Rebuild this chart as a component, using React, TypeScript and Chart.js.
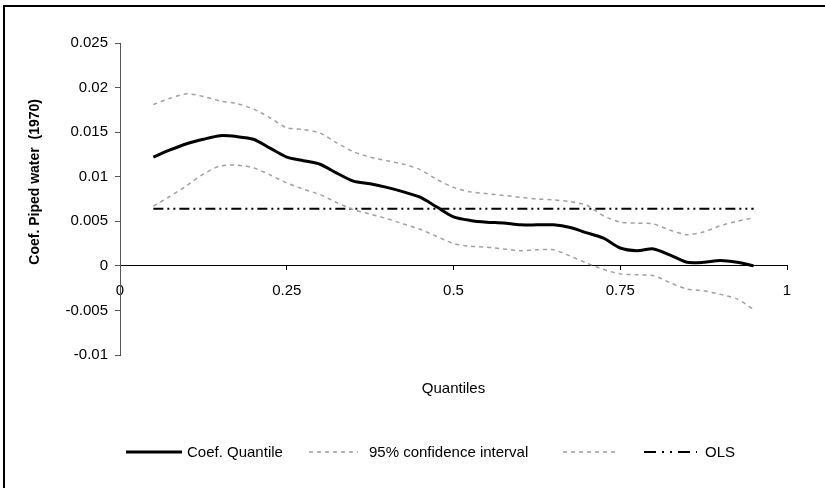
import { useEffect, useRef } from "react";
import { Chart, registerables } from "chart.js";

Chart.register(...registerables);

// ---------- data ----------
const quantiles = [
  0.05, 0.075, 0.1, 0.125, 0.15, 0.175, 0.2, 0.225, 0.25, 0.275, 0.3, 0.325,
  0.35, 0.375, 0.4, 0.425, 0.45, 0.475, 0.5, 0.525, 0.55, 0.575, 0.6, 0.625,
  0.65, 0.675, 0.7, 0.725, 0.75, 0.775, 0.8, 0.825, 0.85, 0.875, 0.9, 0.925, 0.95,
];

const coefQuantile = [
  0.0122, 0.013, 0.0137, 0.0142, 0.0146, 0.0145, 0.0142, 0.0132, 0.0122, 0.0118,
  0.0114, 0.0104, 0.0095, 0.0092, 0.0088, 0.0083, 0.0077, 0.0066, 0.0055, 0.0051,
  0.0049, 0.0048, 0.0046, 0.0046, 0.0046, 0.0043, 0.0037, 0.0031, 0.002, 0.0017,
  0.0019, 0.0012, 0.0004, 0.0004, 0.0006, 0.0004, 0.0,
];

const ciUpper = [
  0.0181, 0.0188, 0.0193, 0.019, 0.0185, 0.0182, 0.0176, 0.0166, 0.0155, 0.0153,
  0.0149, 0.0138, 0.0128, 0.0122, 0.0118, 0.0114, 0.0108, 0.0097, 0.0088, 0.0083,
  0.0081, 0.0079, 0.0077, 0.0075, 0.0074, 0.0072, 0.0068, 0.0056, 0.0049, 0.0048,
  0.0047, 0.004, 0.0035, 0.0038, 0.0045, 0.005, 0.0054,
];

const ciLower = [
  0.0067, 0.0078, 0.009, 0.0103, 0.0112, 0.0113, 0.011, 0.0102, 0.0093, 0.0086,
  0.008, 0.0071, 0.0063, 0.0058, 0.0053, 0.0047, 0.0041, 0.0033, 0.0025, 0.0022,
  0.0021, 0.0019, 0.0017, 0.0018, 0.0018, 0.0011, 0.0003, -0.0004, -0.0009, -0.001,
  -0.0011, -0.0019, -0.0026, -0.0028, -0.0032, -0.0037, -0.0049,
];

const olsCoef = 0.0064;

const seriesNames = ["Coef. Quantile", "95% confidence interval", "", "OLS"];

const xTickValues = [0, 0.25, 0.5, 0.75, 1];
const xTickLabels = ["0", "0.25", "0.5", "0.75", "1"];
const yTickValues = [-0.01, -0.005, 0, 0.005, 0.01, 0.015, 0.02, 0.025];
const yTickLabels = ["-0.01", "-0.005", "0", "0.005", "0.01", "0.015", "0.02", "0.025"];

const xTitle = "Quantiles";
const yTitle = "Coef. Piped water  (1970)";

// ---------- styling ----------
const FONT = "'Liberation Sans', Arial, sans-serif";
const FS = 15;

const labelFor = (values: number[], labels: string[]) => (v: any) => {
  const i = values.findIndex((t) => Math.abs(t - Number(v)) < 1e-9);
  return i >= 0 ? labels[i] : "";
};

const decorPlugin = {
  id: "decor",
  afterDraw(chart: any) {
    const ctx = chart.ctx as CanvasRenderingContext2D;
    const area = chart.chartArea;
    ctx.save();
    // outer frame (left and top edges visible in the reference)
    ctx.strokeStyle = "#000";
    ctx.lineWidth = 2;
    ctx.setLineDash([]);
    ctx.strokeRect(4, 6, 1000, 1000);

    // y axis title
    ctx.fillStyle = "#000";
    ctx.font = `bold 14px ${FONT}`;
    ctx.textAlign = "center";
    ctx.textBaseline = "middle";
    ctx.translate(35, area.top + (area.bottom - area.top) * 0.445);
    ctx.rotate(-Math.PI / 2);
    ctx.fillText(yTitle, 0, 0);
    ctx.restore();

    // legend
    ctx.save();
    const legendY = 452;
    const items = [
      { x0: 126, x1: 182, tx: 187 },
      { x0: 309, x1: 358, tx: 369 },
      { x0: 563, x1: 617, tx: 0 },
      { x0: 644, x1: 697, tx: 705 },
    ];
    chart.data.datasets.forEach((ds: any, i: number) => {
      const it = items[i];
      ctx.strokeStyle = ds.borderColor;
      ctx.lineWidth = ds.borderWidth;
      ctx.setLineDash(ds.legendDash || ds.borderDash || []);
      ctx.beginPath();
      ctx.moveTo(it.x0, legendY);
      ctx.lineTo(it.x1, legendY);
      ctx.stroke();
      if (seriesNames[i]) {
        ctx.setLineDash([]);
        ctx.fillStyle = "#000";
        ctx.font = `${FS}px ${FONT}`;
        ctx.textAlign = "left";
        ctx.textBaseline = "middle";
        ctx.fillText(seriesNames[i], it.tx, legendY + 1);
      }
    });
    ctx.restore();
  },
};

export default function App() {
  const canvasRef = useRef<HTMLCanvasElement | null>(null);

  useEffect(() => {
    if (!canvasRef.current) return;
    const pts = (arr: number[]) => quantiles.map((q, i) => ({ x: q, y: arr[i] }));
    const olsPts = [
      { x: quantiles[0], y: olsCoef },
      { x: quantiles[quantiles.length - 1], y: olsCoef },
    ];

    const chart = new Chart(canvasRef.current, {
      type: "line",
      data: {
        datasets: [
          {
            label: seriesNames[0],
            data: pts(coefQuantile),
            borderColor: "#000",
            borderWidth: 3,
            pointRadius: 0,
            tension: 0.25,
            fill: false,
          },
          {
            label: seriesNames[1],
            data: pts(ciUpper),
            borderColor: "#a0a0a0",
            borderWidth: 1.5,
            borderDash: [4, 4],
            pointRadius: 0,
            tension: 0.25,
            fill: false,
          },
          {
            label: seriesNames[2],
            data: pts(ciLower),
            borderColor: "#a0a0a0",
            borderWidth: 1.5,
            borderDash: [4, 4],
            pointRadius: 0,
            tension: 0.25,
            fill: false,
          },
          {
            label: seriesNames[3],
            data: olsPts,
            borderColor: "#000",
            borderWidth: 2,
            borderDash: [10, 4, 2, 4, 2, 4],
            legendDash: [12, 6, 2, 6, 2, 6],
            pointRadius: 0,
            fill: false,
          } as any,
        ],
      },
      options: {
        animation: false,
        responsive: false,
        devicePixelRatio: 1,
        layout: { padding: { left: 0, top: 43, right: 38, bottom: 90 } },
        plugins: {
          legend: { display: false },
          tooltip: { enabled: false },
        },
        scales: {
          x: {
            type: "linear",
            position: { y: 0 } as any,
            min: 0,
            max: 1,
            ticks: {
              stepSize: 0.25,
              autoSkip: false,
              maxRotation: 0,
              padding: 12,
              color: "#000",
              font: { family: FONT, size: FS },
              callback: labelFor(xTickValues, xTickLabels),
            },
            grid: { drawOnChartArea: false, drawTicks: true, tickLength: 4, color: "#000" },
            border: { display: true, color: "#000", width: 1 },
          },
          x2: {
            type: "linear",
            position: "bottom",
            min: 0,
            max: 1,
            ticks: { display: false },
            grid: { display: false, drawTicks: false },
            border: { display: false },
            title: {
              display: true,
              text: xTitle,
              color: "#000",
              font: { family: FONT, size: FS },
              padding: { top: 0, bottom: 0 },
            },
            afterFit: (s: any) => {
              s.height = 43;
            },
          },
          y: {
            type: "linear",
            position: "left",
            min: -0.01,
            max: 0.025,
            ticks: {
              stepSize: 0.005,
              padding: 7,
              color: "#000",
              font: { family: FONT, size: FS },
              callback: labelFor(yTickValues, yTickLabels),
            },
            grid: { drawOnChartArea: false, drawTicks: true, tickLength: 5, color: "#555" },
            border: { display: true, color: "#555", width: 1 },
            afterFit: (s: any) => {
              s.width = 120;
            },
          },
        },
      },
      plugins: [decorPlugin],
    });
    return () => chart.destroy();
  }, []);

  return (
    <div
      style={{
        position: "fixed",
        left: 0,
        top: 0,
        width: 825,
        height: 488,
        background: "#fff",
      }}
    >
      <canvas ref={canvasRef} width={825} height={488} />
    </div>
  );
}
